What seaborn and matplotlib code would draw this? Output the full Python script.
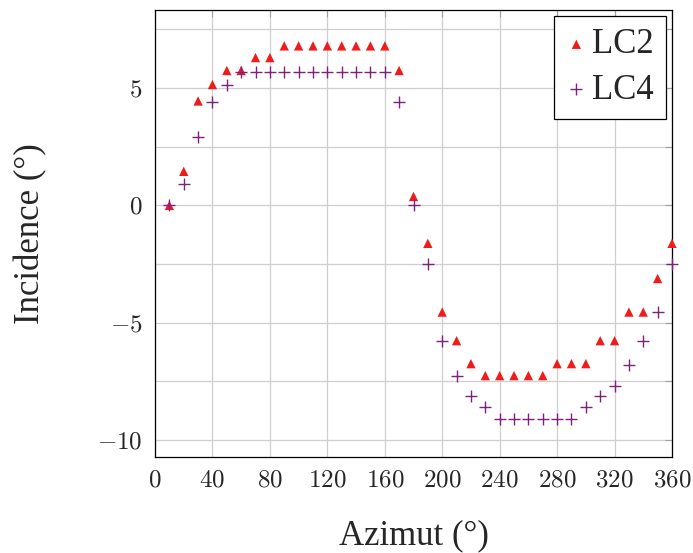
import numpy as np
import pandas as pd
import matplotlib
matplotlib.use("Agg")
import matplotlib.pyplot as plt
from matplotlib.ticker import MultipleLocator, FuncFormatter
import seaborn as sns

# Données
azimut = list(range(10, 370, 10))

lc2 = [0.0, 1.45, 4.45, 5.15, 5.75, 5.75, 6.3, 6.3, 6.8, 6.8,
       6.8, 6.8, 6.8, 6.8, 6.8, 6.8, 5.75, 0.38, -1.62, -4.55,
       -5.77, -6.75, -7.26, -7.26, -7.26, -7.26, -7.26, -6.75, -6.75, -6.75,
       -5.77, -5.77, -4.55, -4.55, -3.12, -1.62]

lc4 = [0.0, 0.9, 2.9, 4.4, 5.15, 5.7, 5.7, 5.7, 5.7, 5.7,
       5.7, 5.7, 5.7, 5.7, 5.7, 5.7, 4.4, 0.0, -2.48, -5.77,
       -7.26, -8.12, -8.6, -9.1, -9.1, -9.1, -9.1, -9.1, -9.1, -8.6,
       -8.12, -7.7, -6.8, -5.77, -4.55, -2.48]

df = pd.DataFrame({"azimut": azimut, "LC2": lc2, "LC4": lc4})

sns.set_style("whitegrid")
plt.rcParams["font.family"] = ["Liberation Serif", "DejaVu Serif"]
plt.rcParams["mathtext.fontset"] = "cm"

fig = plt.figure(figsize=(6.93, 5.53), dpi=100)
ax = fig.add_axes([155 / 693, 1 - 457 / 553, (672 - 155) / 693, (457 - 10) / 553])

sns.scatterplot(data=df, x="azimut", y="LC2", ax=ax, marker="^", color="#f01c1c",
                s=45, edgecolor="none", label="LC2", clip_on=False, zorder=3)
sns.scatterplot(data=df, x="azimut", y="LC4", ax=ax, marker="+", color="#7f1f80",
                s=70, linewidth=1.0, label="LC4", clip_on=False, zorder=3)

ax.set_xlim(0, 360)
ax.set_ylim(-10.73, 8.33)
ax.xaxis.set_major_locator(MultipleLocator(40))
ax.yaxis.set_major_locator(MultipleLocator(5))
ax.yaxis.set_minor_locator(MultipleLocator(2.5))
fmt = FuncFormatter(lambda v, p: "$%g$" % v)
ax.xaxis.set_major_formatter(fmt)
ax.yaxis.set_major_formatter(fmt)

ax.grid(True, which="both", color="#cfcfcf", linewidth=0.9)
ax.tick_params(which="both", direction="in", length=5, width=0.8, color="#a0a0a0",
               top=True, right=True, labelsize=18, pad=9)
for s in ax.spines.values():
    s.set_color("black")
    s.set_linewidth(0.9)

ax.set_xlabel("Azimut (°)", fontsize=25, labelpad=20)
ax.set_ylabel("Incidence (°)", fontsize=25, labelpad=36)

leg = ax.legend(loc="upper right", fontsize=25, frameon=True, fancybox=False,
                borderaxespad=0.18, handletextpad=0.15, labelspacing=0.35,
                borderpad=0.35, handlelength=0.6, markerscale=1.0)
leg.get_frame().set_edgecolor("black")
leg.get_frame().set_linewidth(0.9)
leg.get_frame().set_alpha(1)

fig.savefig("out.png", dpi=100)
